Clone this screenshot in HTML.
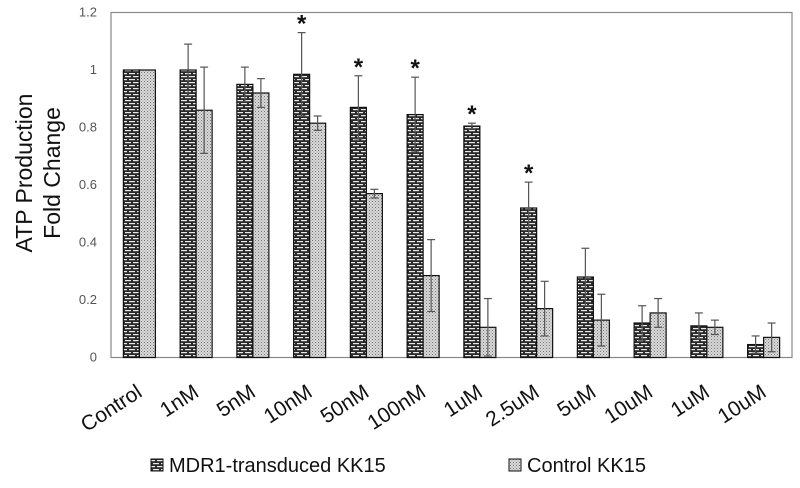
<!DOCTYPE html>
<html><head><meta charset="utf-8"><style>
body{margin:0;background:#fff;}
svg{display:block;font-family:"Liberation Sans",sans-serif;}
</style></head><body>
<svg id="chart" width="800" height="488">
<defs>
<pattern id="brick" width="8" height="6" patternUnits="userSpaceOnUse">
<rect width="8" height="6" fill="#2a2a2a"/>
<rect x="1" y="1" width="6" height="1.2" fill="#e8e8e8"/>
<rect x="0" y="4" width="3" height="1.2" fill="#e8e8e8"/>
<rect x="5" y="4" width="3" height="1.2" fill="#e8e8e8"/>
</pattern>
<pattern id="dots" width="3" height="3" patternUnits="userSpaceOnUse">
<rect width="3" height="3" fill="#d8d8d8"/>
<rect width="1" height="1" fill="#777"/>
<rect x="1.5" y="1.5" width="1" height="1" fill="#999"/>
</pattern>
</defs>
<g id="plot"></g>
</svg>
<script>
const categories=["Control","1nM","5nM","10nM","50nM","100nM","1uM","2.5uM","5uM","10uM","1uM","10uM"];
const mdrValues=[1,1,0.95,0.985,0.87,0.845,0.805,0.52,0.28,0.12,0.11,0.045];
const mdrErrors=[0,0.09,0.06,0.145,0.11,0.13,0.01,0.09,0.1,0.06,0.045,0.03];
const ctrlValues=[1,0.86,0.92,0.815,0.57,0.285,0.105,0.17,0.13,0.155,0.105,0.07];
const ctrlErrors=[0,0.15,0.05,0.025,0.015,0.125,0.1,0.095,0.09,0.05,0.025,0.05];
const significant=[false,false,false,true,true,true,true,true,false,false,false,false];
const yTicks=[0,0.2,0.4,0.6,0.8,1,1.2];

const NS="http://www.w3.org/2000/svg";
const L=111,R=792,T=12.5,B=357.5,yMax=1.2;
const g=document.getElementById('plot');
const y=v=>B-(v/yMax)*(B-T);
const step=(R-L)/categories.length;
const xc=i=>L+step*(i+0.5);
const bw=16;
function mk(tag,attrs,txt){const e=document.createElementNS(NS,tag);for(const k in attrs)e.setAttribute(k,attrs[k]);if(txt!==undefined)e.textContent=txt;g.appendChild(e);return e;}

let fr=mk('rect',{x:L,y:T,width:R-L,height:B-T,fill:'none',stroke:'#888','stroke-width':1.2});



yTicks.forEach(t=>{
 const e=mk('text',{x:97,y:y(t)+4,'text-anchor':'end','font-size':13,fill:'#555'},String(t));
 
 
});

function errBar(cx,v,err){
 if(!err)return;
 const ln=mk('line',{x1:cx,x2:cx,y1:y(v+err),y2:y(v-err),stroke:'#555','stroke-width':1.2});
 
 
 [v+err,v-err].forEach(w=>{
  const c=mk('line',{x1:cx-4,x2:cx+4,y1:y(w),y2:y(w),stroke:'#555','stroke-width':1.2});
  
  
 });
}

categories.forEach((c,i)=>{
 const cx=xc(i);
 const b1=mk('rect',{x:cx-bw,y:y(mdrValues[i]),width:bw,height:B-y(mdrValues[i]),fill:'url(#brick)',stroke:'#111','stroke-width':1.2});
 
 
 const b2=mk('rect',{x:cx,y:y(ctrlValues[i]),width:bw,height:B-y(ctrlValues[i]),fill:'url(#dots)',stroke:'#111','stroke-width':1.2});
 
 
 errBar(cx-bw/2,mdrValues[i],mdrErrors[i]);
 errBar(cx+bw/2,ctrlValues[i],ctrlErrors[i]);
 if(significant[i]){
  const s=mk('text',{x:cx-bw/2,y:y(mdrValues[i]+mdrErrors[i])-1,'text-anchor':'middle','font-size':24,'font-weight':'bold',fill:'#111'},'*');
  
  
 }
 const lx=cx+4,ly=B+38;
 const t=mk('text',{x:lx,y:ly,'text-anchor':'end','font-size':21,fill:'#111',transform:`rotate(-33 ${lx} ${ly})`},c);
 
 
});

const yt=mk('text',{transform:'translate(43,173) rotate(-90)','text-anchor':'middle','font-size':23,fill:'#111'});


const ts1=document.createElementNS(NS,'tspan');ts1.setAttribute('x',0);ts1.setAttribute('y',-11);ts1.textContent='ATP Production';yt.appendChild(ts1);
const ts2=document.createElementNS(NS,'tspan');ts2.setAttribute('x',0);ts2.setAttribute('y',17);ts2.textContent='Fold Change';yt.appendChild(ts2);

const lg=[[151,'url(#brick)','MDR1-transduced KK15'],[509,'url(#dots)','Control KK15']];
lg.forEach(([x,f,lab])=>{
 const r=mk('rect',{x:x,y:459,width:12,height:12,fill:f,stroke:'#111','stroke-width':1});
 
 
 const t=mk('text',{x:x+18,y:472,'font-size':20,fill:'#111'},lab);
 
 
});
</script>
</body></html>
